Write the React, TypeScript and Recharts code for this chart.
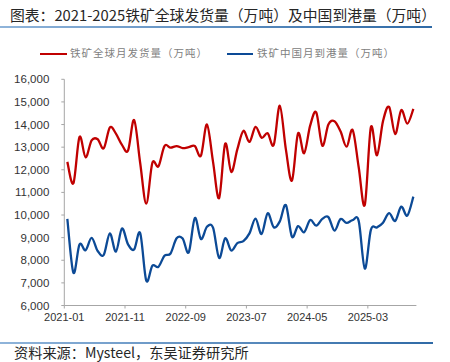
import React from 'react';
import { LineChart, Line, XAxis, YAxis } from 'recharts';

const months = [
  '2021-01','2021-02','2021-03','2021-04','2021-05','2021-06','2021-07','2021-08','2021-09','2021-10','2021-11','2021-12',
  '2022-01','2022-02','2022-03','2022-04','2022-05','2022-06','2022-07','2022-08','2022-09','2022-10','2022-11','2022-12',
  '2023-01','2023-02','2023-03','2023-04','2023-05','2023-06','2023-07','2023-08','2023-09','2023-10','2023-11','2023-12',
  '2024-01','2024-02','2024-03','2024-04','2024-05','2024-06','2024-07','2024-08','2024-09','2024-10','2024-11','2024-12',
  '2025-01','2025-02','2025-03','2025-04','2025-05','2025-06','2025-07','2025-08','2025-09','2025-10',
];

const globalShipments = [
  12350, 11400, 13450, 12550, 13300, 13350, 12950, 13870, 13600, 13100,
  12850, 14200, 12300, 10500, 12300, 12150, 13050, 12980, 13050, 12960,
  13000, 13050, 12620, 14000, 12350, 10750, 13150, 11900, 12900, 13720,
  13230, 13900, 13420, 13610, 13100, 14830, 12900, 11520, 13610, 12730,
  13950, 14540, 13060, 14000, 14150, 13700, 13020, 13760, 12100, 10450,
  13880, 12640, 14150, 14780, 13580, 14640, 14040, 14690,
];

const chinaArrivals = [
  9830, 7450, 8700, 8440, 8990, 8410, 8240, 9190, 8380, 9400,
  8700, 8480, 9200, 7100, 7760, 7710, 8200, 8300, 8970, 8960,
  8350, 9870, 8940, 9480, 9440, 8100, 8970, 8430, 8760, 8850,
  9190, 9840, 9160, 10080, 9460, 9720, 10440, 9040, 9510, 9240,
  9780, 9530, 9830, 9910, 9310, 9820, 9650, 9770, 9730, 7630,
  9340, 9450, 9660, 10080, 9740, 10370, 9970, 10810,
];

const tickMonths = ['2021-01', '2021-11', '2022-09', '2023-07', '2024-05', '2025-03'];
const yTicks = [6000, 7000, 8000, 9000, 10000, 11000, 12000, 13000, 14000, 15000, 16000];

const seriesNames = ['铁矿全球月发货量（万吨）', '铁矿中国月到港量（万吨）'];
const titleText = '图表：2021-2025铁矿全球发货量（万吨）及中国到港量（万吨）';
const sourceText = '资料来源：Mysteel，东吴证券研究所';

const data = months.map((m, i) => ({
  idx: i,
  month: m,
  ship: globalShipments[i],
  arrive: chinaArrivals[i],
}));

// category boundaries (Excel "between tick marks")
const xTicks = tickMonths.map((m) => months.indexOf(m) - 0.5);

// Excel-like smoothed line (uniform Catmull-Rom as cubic Bezier)
const excelSmooth: any = (context: any) => {
  let pts: number[][] = [];
  return {
    areaStart() {},
    areaEnd() {},
    lineStart() {
      pts = [];
    },
    point(x: number, y: number) {
      pts.push([+x, +y]);
    },
    lineEnd() {
      if (!pts.length) return;
      context.moveTo(pts[0][0], pts[0][1]);
      for (let i = 0; i < pts.length - 1; i++) {
        const p0 = pts[i - 1] || pts[i];
        const p1 = pts[i];
        const p2 = pts[i + 1];
        const p3 = pts[i + 2] || pts[i + 1];
        context.bezierCurveTo(
          p1[0] + (p2[0] - p0[0]) / 6,
          p1[1] + (p2[1] - p0[1]) / 6,
          p2[0] - (p3[0] - p1[0]) / 6,
          p2[1] - (p3[1] - p1[1]) / 6,
          p2[0],
          p2[1]
        );
      }
    },
  };
};

const RED = '#C00000';
const BLUE = '#0C4A96';
const AXIS = '#A6A6A6';
const CJK = '"Noto Sans CJK SC", "Noto Sans", sans-serif';

const fmt = (v: number) => v.toLocaleString('en-US');

export default function App() {
  return (
    <div
      style={{
        position: 'absolute',
        left: 0,
        top: 0,
        width: 450,
        height: 362,
        background: '#fff',
        overflow: 'hidden',
      }}
    >
      <div
        style={{
          position: 'absolute',
          left: 10,
          top: 4,
          fontFamily: CJK,
          fontSize: 14.8,
          lineHeight: '22px',
          color: '#262626',
          whiteSpace: 'nowrap',
        }}
      >
        {titleText}
      </div>
      <div
        style={{
          position: 'absolute',
          left: 0,
          top: 26,
          width: 432,
          height: 2,
          background: 'linear-gradient(to right, #8fb4da, #2f6aa6)',
        }}
      />
      {/* legend */}
      <div style={{ position: 'absolute', left: 40, top: 52.5, width: 27, height: 2, background: RED }} />
      <div
        style={{
          position: 'absolute',
          left: 70,
          top: 45,
          fontFamily: CJK,
          fontSize: 10.5,
          lineHeight: '16px',
          letterSpacing: 1,
          color: '#808080',
          whiteSpace: 'nowrap',
        }}
      >
        {seriesNames[0]}
      </div>
      <div style={{ position: 'absolute', left: 227, top: 52.5, width: 26, height: 2, background: BLUE }} />
      <div
        style={{
          position: 'absolute',
          left: 257,
          top: 45,
          fontFamily: CJK,
          fontSize: 10.5,
          lineHeight: '16px',
          letterSpacing: 1,
          color: '#808080',
          whiteSpace: 'nowrap',
        }}
      >
        {seriesNames[1]}
      </div>

      <div style={{ position: 'absolute', left: 0, top: 0 }}>
        <LineChart
          width={450}
          height={340}
          data={data}
          margin={{ top: 79.3, right: 33.6, bottom: 4.5, left: 4.3 }}
        >
          <XAxis
            dataKey="idx"
            type="number"
            domain={[-0.5, months.length - 0.5]}
            ticks={xTicks}
            interval={0}
            tickFormatter={(v: number) => months[Math.round(v + 0.5)]}
            stroke={AXIS}
            tickSize={3}
            tickMargin={5}
            height={30}
            tick={{ fill: '#333', fontSize: 11, fontFamily: '"Liberation Sans", Arial, sans-serif' }}
            tickLine={{ stroke: AXIS }}
            allowDataOverflow
          />
          <YAxis
            type="number"
            domain={[6000, 16000]}
            ticks={yTicks}
            interval={0}
            tickFormatter={fmt}
            stroke={AXIS}
            width={60}
            tickSize={3}
            tickMargin={12}
            tick={{ fill: '#333', fontSize: 11.5, fontFamily: '"Liberation Sans", Arial, sans-serif' }}
            tickLine={{ stroke: AXIS }}
            allowDataOverflow
          />
          <Line
            dataKey="ship"
            name={seriesNames[0]}
            type={excelSmooth}
            stroke={RED}
            strokeWidth={2.3}
            dot={false}
            activeDot={false}
            isAnimationActive={false}
          />
          <Line
            dataKey="arrive"
            name={seriesNames[1]}
            type={excelSmooth}
            stroke={BLUE}
            strokeWidth={2.3}
            dot={false}
            activeDot={false}
            isAnimationActive={false}
          />
        </LineChart>
      </div>

      <div
        style={{
          position: 'absolute',
          left: 0,
          top: 342,
          width: 433,
          height: 1.5,
          background: 'linear-gradient(to right, #8fb4da, #2f6aa6)',
        }}
      />
      <div
        style={{
          position: 'absolute',
          left: 14,
          top: 341.5,
          fontFamily: CJK,
          fontSize: 14.2,
          lineHeight: '20px',
          color: '#262626',
          whiteSpace: 'nowrap',
        }}
      >
        {sourceText}
      </div>
    </div>
  );
}
